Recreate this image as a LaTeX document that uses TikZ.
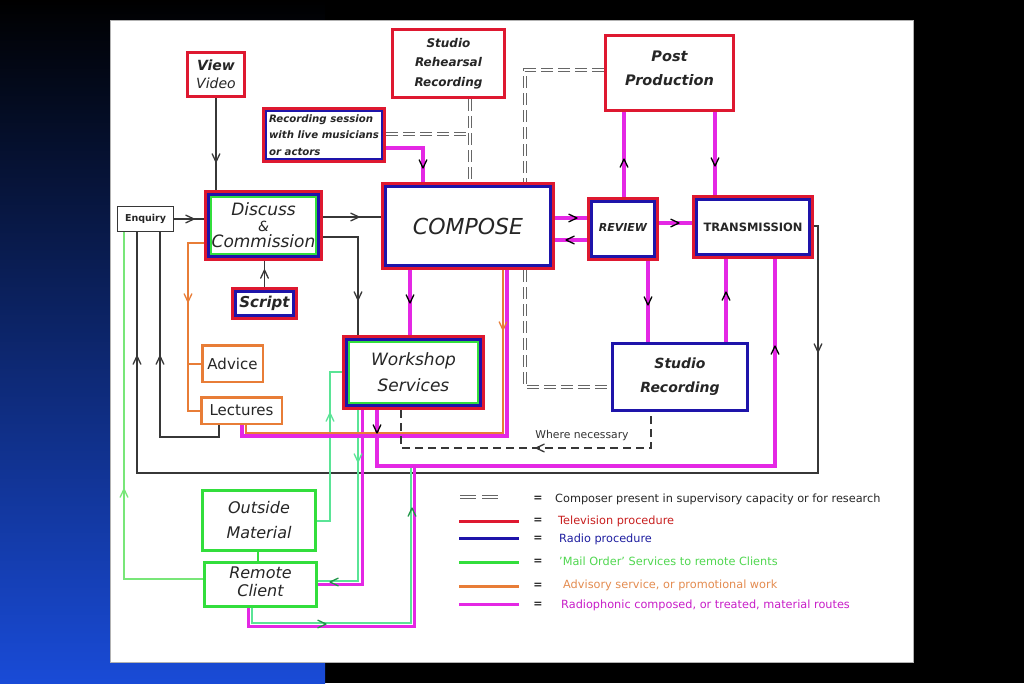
\documentclass[tikz,border=0pt]{standalone}
\usepackage{fontspec}
\setmainfont{DejaVu Sans}
\definecolor{cred}{RGB}{222,24,48}
\definecolor{cblue}{RGB}{30,20,170}
\definecolor{cgreen}{RGB}{50,222,60}
\definecolor{corange}{RGB}{232,125,55}
\definecolor{cmag}{RGB}{228,40,228}
\definecolor{cteal}{RGB}{90,228,150}
\definecolor{clgreen}{RGB}{120,230,120}
\definecolor{cdkgreen}{RGB}{30,150,70}
\definecolor{cgray}{RGB}{55,55,55}
\definecolor{cbg}{RGB}{25,75,215}
\definecolor{ltxtred}{RGB}{200,30,30}
\definecolor{ltxtblue}{RGB}{30,30,160}
\definecolor{ltxtgreen}{RGB}{80,215,80}
\definecolor{ltxtorange}{RGB}{228,140,80}
\definecolor{ltxtmag}{RGB}{200,30,200}
\newcommand\fs[2]{\fontsize{#1}{#2}\selectfont}
\newcommand\vtip[3]{\draw[#1, line width=1.3pt, line cap=round, line join=round] (#2) ++(#3+155:9) -- (#2) -- ++(#3-155:9);}
\newcommand\frm[4]{\draw[#2, line width=#4pt] ([shift={(#3,#3)}]#1.north west) rectangle ([shift={(-#3,-#3)}]#1.south east);}
\tikzset{
  box/.style={fill=white, inner sep=0pt, outer sep=0pt, align=center, text=black!85},
  sz/.style 2 args={minimum width=#1pt, minimum height=#2pt},
  con/.style={draw=cgray, line width=1.2pt},
  mag/.style={draw=cmag, line width=4pt},
  org/.style={draw=corange, line width=2pt},
  grn/.style={draw=cteal, line width=2pt},
  lgrn/.style={draw=clgreen, line width=1.4pt},
  ddash/.style={draw=gray!80!black, line width=0.8pt, double=white, double distance=1.8pt, dash pattern=on 12pt off 5pt},
  legtxt/.style={anchor=west, inner sep=0pt, font=\fs{11.3}{13}},
  eq/.style={inner sep=0pt, font=\fs{11}{13}\bfseries, text=black!85}
}
\begin{document}
\begin{tikzpicture}[x=1pt,y=-1pt]
\useasboundingbox (0,0) rectangle (1024,683);
\fill[black] (0,0) rectangle (1024,683);
\shade[top color=black, bottom color=cbg] (0,0) rectangle (325,683);
\fill[white, draw=gray!60, line width=0.8pt] (110,20) rectangle (913,662);

% ---------- nodes ----------
\node[box, sz={60}{47}, font=\fs{14}{18}\itshape] (vv) at (216,74.5) {\bfseries View\\\mdseries Video};
\node[box, sz={115}{71}, font=\fs{12}{19.5}\bfseries\itshape] (srr) at (448.5,63.5) {Studio\\Rehearsal\\Recording};
\node[box, sz={131}{78}, font=\fs{14.5}{24}\bfseries\itshape] (pp) at (669.5,73) {Post\\Production\\[-14pt]\mbox{}};
\node[box, sz={124}{56}, align=left, font=\fs{10.2}{16.5}\bfseries\itshape] (rs) at (324,135) {Recording session\\with live musicians\\or actors};
\node[box, sz={119}{71}, font=\fs{17}{16}\itshape] (disc) at (263.5,225.5) {Discuss\\{\fs{14}{12}\&}\\Commission};
\node[box, sz={57}{26}, font=\fs{9.5}{11}\bfseries] (enq) at (145.5,219) {Enquiry};
\node[box, sz={67}{33}, font=\fs{15}{17}\bfseries\itshape] (scr) at (264.5,303.5) {Script};
\node[box, sz={174}{88}, font=\fs{22}{24}\itshape] (comp) at (468,226) {COMPOSE};
\node[box, sz={72}{64}, font=\fs{11}{13}\bfseries\itshape] (rev) at (623,229) {REVIEW\\[-9pt]\mbox{}};
\node[box, sz={122}{64}, font=\fs{11.5}{13}\bfseries] (trans) at (753,227) {TRANSMISSION};
\node[box, sz={63}{39}, font=\fs{15}{17}] (adv) at (232.5,363.5) {Advice};
\node[box, sz={83}{29}, font=\fs{15}{17}] (lect) at (241.5,410.5) {Lectures};
\node[box, sz={143}{75}, font=\fs{17}{26}\itshape] (ws) at (413.5,372.5) {Workshop\\Services};
\node[box, sz={138}{70}, font=\fs{14}{24}\bfseries\itshape] (sr) at (680,377) {Studio\\Recording};
\node[box, sz={116}{63}, font=\fs{16}{25}\itshape] (om) at (259,520.5) {Outside\\Material};
\node[box, sz={115}{47}, font=\fs{16}{18}\itshape] (rc) at (260.5,584.5) {Remote\\Client\\[-12pt]\mbox{}};

% ---------- connectors ----------
\draw[con] (vv.south) -- (vv.south |- disc.north);
\draw[con] (enq.east) -- (enq.east -| disc.west);
\draw[con] (disc.east |- 0,217) -- (comp.west |- 0,217);
\draw[con] (disc.east |- 0,237) -| (ws.north -| 358,0);
\draw[con] (scr.north) -- (scr.north |- disc.south);
\draw[org] (disc.west |- 0,243) -- (188,243) -- (188,411) -- (lect.west |- 0,411);
\draw[org] (188,363.5) -- (adv.west |- 0,363.5);
\draw[con] (lect.south -| 219,0) -- (219,437) -- (160,437) -- (enq.south -| 160,0);
\draw[con] (trans.east |- 0,226) -- (818,226) -- (818,473) -- (137,473) -- (enq.south -| 137,0);
\draw[lgrn] (rc.west |- 0,579) -- (124,579) -- (enq.south -| 124,0);
\draw[grn] (om.east |- 0,521) -- (330,521) -- (330,372) -- (ws.west |- 0,372);
\draw[draw=cgreen, line width=2pt] (om.south -| 258,0) -- (rc.north -| 258,0);
% workshop -> remote client
\draw[mag, line width=3pt] (ws.south -| 362,0) -- (362,584) -- (rc.east |- 0,584);
\draw[grn] (ws.south -| 358,0) -- (358,580.5) -- (rc.east |- 0,580.5);
% remote client -> transmission route
\coordinate (j1) at (414,466);
\coordinate (j2) at (410.5,466);
\draw[mag, line width=3pt] (rc.south -| 248,0) -- (248,626) -- (414,626) -- (j1);
\draw[grn] (rc.south -| 252,0) -- (252,622.5) -- (410.5,622.5) -- (j2);
% workshop -> transmission
\draw[mag] (ws.south -| 377,0) -- (377,466) -- (775,466) -- (trans.south -| 775,0);
% compose -> lectures
\draw[mag] (comp.south -| 507,0) -- (507,436) -- (242,436) -- (lect.south -| 242,0);
\draw[org] (comp.south -| 503,0) -- (503,433) -- (246,433) -- (lect.south -| 246,0);
\draw[mag] (comp.south -| 410,0) -- (ws.north -| 410,0);
\draw[mag] (rs.east |- 0,148) -- (423,148) -- (comp.north -| 423,0);
% composer presence
\draw[ddash] (srr.south -| 470,0) -- (comp.north -| 470,0);
\draw[ddash] (rs.east |- 0,134) -- (470,134);
\draw[ddash] (pp.west |- 0,70) -- (525,70) -- (comp.north -| 525,0);
\draw[ddash] (comp.south -| 525,0) -- (525,387) -- (sr.west |- 0,387);
% where necessary
\draw[con, dash pattern=on 8pt off 5pt] (ws.south -| 401,0) -- (401,448) -- (651,448) -- (sr.south -| 651,0);
\node[inner sep=0pt, font=\fs{10.8}{12}, text=black!80] (wn) at (582,436) {Where necessary};
% review / transmission
\draw[mag] (comp.east |- 0,218) -- (rev.west |- 0,218);
\draw[mag] (rev.west |- 0,240) -- (comp.east |- 0,240);
\draw[mag] (rev.east |- 0,223) -- (trans.west |- 0,223);
\draw[mag] (rev.north -| 624,0) -- (pp.south -| 624,0);
\draw[mag] (pp.south -| 715,0) -- (trans.north -| 715,0);
\draw[mag] (rev.south -| 648,0) -- (sr.north -| 648,0);
\draw[mag] (sr.north -| 726,0) -- (trans.south -| 726,0);

% ---------- frames ----------
\frm{vv}{cred}{1.5}{3}
\frm{srr}{cred}{1.5}{3}
\frm{pp}{cred}{1.5}{3}
\frm{rs}{cred}{1.5}{3}\frm{rs}{cblue}{4}{2}
\frm{disc}{cred}{1.75}{3.5}\frm{disc}{cblue}{4.5}{2.5}\frm{disc}{cgreen}{6.75}{2}
\frm{scr}{cred}{1.75}{3.5}\frm{scr}{cblue}{4.5}{2.5}
\frm{comp}{cred}{1.75}{3.5}\frm{comp}{cblue}{4.5}{2.5}
\frm{rev}{cred}{1.75}{3.5}\frm{rev}{cblue}{4.5}{2.5}
\frm{trans}{cred}{1.75}{3.5}\frm{trans}{cblue}{4.5}{2.5}
\frm{ws}{cred}{1.75}{3.5}\frm{ws}{cblue}{4.5}{2.5}\frm{ws}{cgreen}{6.75}{2}
\frm{sr}{cblue}{1.5}{3}
\frm{enq}{cgray}{0.6}{1.2}
\frm{adv}{corange}{1.25}{2.5}
\frm{lect}{corange}{1.25}{2.5}
\frm{om}{cgreen}{1.5}{3}
\frm{rc}{cgreen}{1.5}{3}

% ---------- arrow tips ----------
\vtip{cgray}{216,162}{90}
\vtip{cgray}{194,219}{0}
\vtip{cgray}{359,217}{0}
\vtip{cgray}{358,300}{90}
\vtip{cgray}{264.5,270}{270}
\vtip{corange}{188,302}{90}
\vtip{cgray}{160,356}{270}
\vtip{cgray}{818,352}{90}
\vtip{cgray}{137,356}{270}
\vtip{clgreen}{124,489}{270}
\vtip{cteal}{330,413}{270}
\vtip{cdkgreen}{330,582}{180}
\vtip{cteal}{358,462}{90}
\vtip{cdkgreen}{326,624}{0}
\vtip{cdkgreen}{412,508}{270}
\vtip{black}{377,433}{90}
\vtip{black}{775,346}{270}
\vtip{corange}{503,330}{90}
\vtip{black}{410,303}{90}
\vtip{black}{423,168}{90}
\vtip{cgray}{536,448}{180}
\vtip{black}{577,218}{0}
\vtip{black}{566,240}{180}
\vtip{black}{679,223}{0}
\vtip{black}{624,159}{270}
\vtip{black}{715,166}{90}
\vtip{black}{648,305}{90}
\vtip{black}{726,292}{270}

% ---------- legend ----------
\draw[ddash, dash pattern=on 16pt off 6pt] (460,497) -- (500,497);
\draw[cred, line width=3pt] (459,521) -- (519,521);
\draw[cblue, line width=3pt] (459,538) -- (519,538);
\draw[cgreen, line width=3pt] (459,562) -- (519,562);
\draw[corange, line width=3pt] (459,586) -- (519,586);
\draw[cmag, line width=3pt] (459,604) -- (519,604);
\node[eq] (e1) at (538,499) {=};
\node[eq] (e2) at (538,521) {=};
\node[eq] (e3) at (538,539) {=};
\node[eq] (e4) at (538,562) {=};
\node[eq] (e5) at (538,586) {=};
\node[eq] (e6) at (538,605) {=};
\node[legtxt, text=black!85] (l1) at (555,499) {Composer present in supervisory capacity or for research};
\node[legtxt, text=ltxtred] (l2) at (558,521) {Television procedure};
\node[legtxt, text=ltxtblue] (l3) at (559,539) {Radio procedure};
\node[legtxt, text=ltxtgreen] (l4) at (559,561) {'Mail Order' Services to remote Clients};
\node[legtxt, text=ltxtorange] (l5) at (563,585) {Advisory service, or promotional work};
\node[legtxt, text=ltxtmag] (l6) at (561,605) {Radiophonic composed, or treated, material routes};
\end{tikzpicture}
\end{document}
